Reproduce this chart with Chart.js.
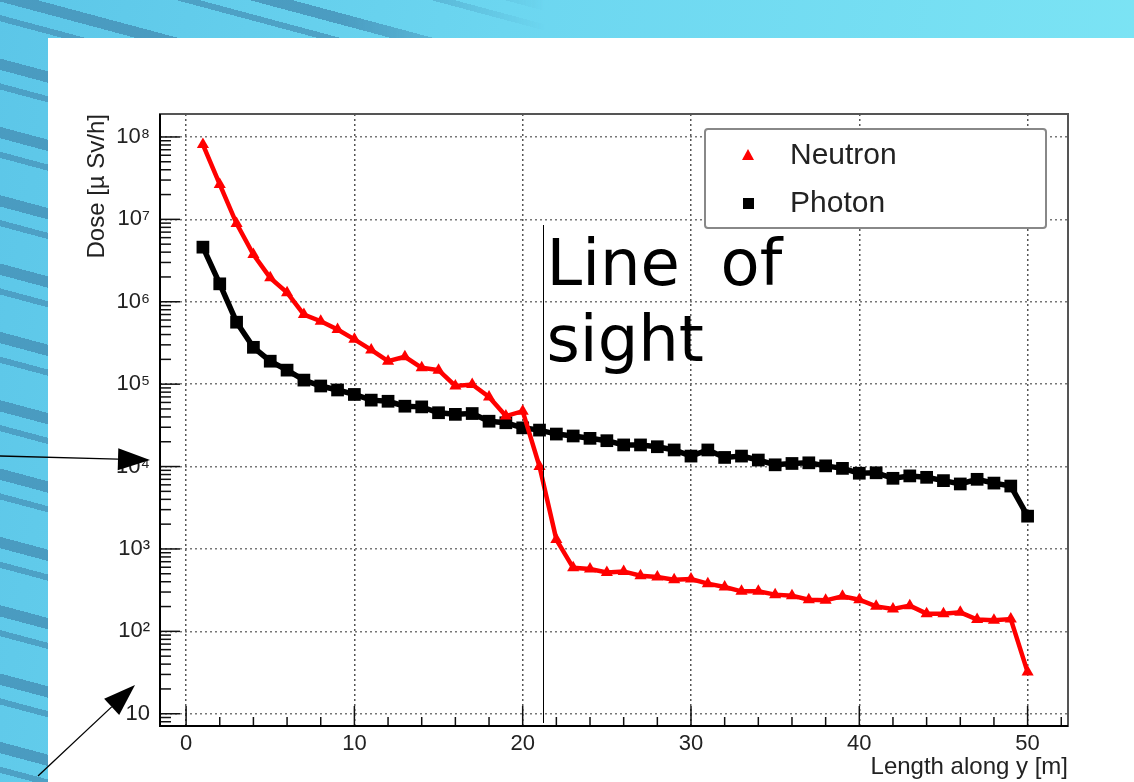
<!DOCTYPE html>
<html>
<head>
<meta charset="utf-8">
<script src="https://cdn.jsdelivr.net/npm/chart.js@4"></script>
<style>
  html, body { margin:0; padding:0; width:1134px; height:782px; overflow:hidden; }
  body { position:relative; background: linear-gradient(100deg, #5cc6e8 0%, #6cd6f0 40%, #7ee6f5 100%); }
  #stripes { position:absolute; left:0; top:0; width:1134px; height:782px;
    background: repeating-linear-gradient(195deg,
      rgba(0,0,0,0) 0px, rgba(0,0,0,0) 20px,
      rgba(72,150,188,0.9) 20px, rgba(72,150,188,0.9) 31px,
      rgba(0,0,0,0) 31px, rgba(0,0,0,0) 44px,
      rgba(72,150,188,0.8) 44px, rgba(72,150,188,0.8) 50px,
      rgba(0,0,0,0) 50px, rgba(0,0,0,0) 66px);
    -webkit-mask-image: linear-gradient(90deg, #000 0%, #000 30%, transparent 48%);
    mask-image: linear-gradient(90deg, #000 0%, #000 30%, transparent 48%); }
  #panel { position:absolute; left:48px; top:38px; right:0; bottom:0; background:#fff; }
  canvas { position:absolute; left:0; top:0; }
</style>
</head>
<body>
<div id="stripes"></div>
<div id="panel"></div>
<canvas id="graph" width="1134" height="782"></canvas>
<script>
// distance along y, one point per metre
var lengths = [1,2,3,4,5,6,7,8,9,10,11,12,13,14,15,16,17,18,19,20,21,22,23,24,25,
               26,27,28,29,30,31,32,33,34,35,36,37,38,39,40,41,42,43,44,45,46,47,48,49,50];
// dose in micro Sv/h
var neutron = [8.1e7,2.65e7,8.9e6,3.75e6,1.95e6,1.29e6,7.0e5,5.8e5,4.6e5,3.5e5,
               2.6e5,1.9e5,2.15e5,1.58e5,1.48e5,9.5e4,9.9e4,7.0e4,4.1e4,4.7e4,
               1.0e4,1.3e3,590,570,519,534,473,456,423,431,
               379,345,306,306,279,271,242,238,266,242,
               201,187,205,164,164,170,139,136,141,32];
var photon = [4.6e6,1.65e6,5.65e5,2.8e5,1.9e5,1.48e5,1.12e5,9.5e4,8.5e4,7.5e4,
              6.4e4,6.2e4,5.4e4,5.3e4,4.5e4,4.3e4,4.4e4,3.55e4,3.4e4,2.95e4,
              2.77e4,2.48e4,2.35e4,2.2e4,2.06e4,1.83e4,1.83e4,1.74e4,1.59e4,1.34e4,
              1.59e4,1.29e4,1.34e4,1.2e4,1.05e4,1.09e4,1.11e4,1.02e4,9.5e3,8.3e3,
              8.4e3,7.2e3,7.7e3,7.4e3,6.75e3,6.15e3,7.0e3,6.3e3,5.8e3,2.5e3];
var seriesNames = ["Neutron", "Photon"];
var xTickLabels = ["0","10","20","30","40","50"];
var lineOfSight = 21.2;
var sightText = ["Line  of", "sight"];

var sup = "⁰¹²³⁴⁵⁶⁷⁸⁹";
function isDecade(v) {
  var l = Math.log10(v);
  return Math.abs(l - Math.round(l)) < 1e-9;
}

function drawArrow(ctx, x1, y1, x2, y2) {
  var a = Math.atan2(y2 - y1, x2 - x1);
  var hl = 32, hw = 11;
  ctx.beginPath();
  ctx.moveTo(x1, y1);
  ctx.lineTo(x2 - hl * Math.cos(a), y2 - hl * Math.sin(a));
  ctx.stroke();
  ctx.beginPath();
  ctx.moveTo(x2, y2);
  ctx.lineTo(x2 - hl * Math.cos(a) + hw * Math.sin(a), y2 - hl * Math.sin(a) - hw * Math.cos(a));
  ctx.lineTo(x2 - hl * Math.cos(a) - hw * Math.sin(a), y2 - hl * Math.sin(a) + hw * Math.cos(a));
  ctx.closePath();
  ctx.fill();
}

//ROOT style frame, inside ticks, legend and the slide annotations
var rootStyle = {
  id: "rootStyle",
  afterDraw: function(chart) {
    var ctx = chart.ctx;
    var a = chart.chartArea;
    var xs = chart.scales.x, ys = chart.scales.y;
    ctx.save();
    // ticks inside the frame
    ctx.strokeStyle = "#111";
    ctx.lineWidth = 1.5;
    xs.ticks.forEach(function(t) {
      var px = xs.getPixelForValue(t.value);
      var len = (t.value % 10 === 0) ? 20 : 9;
      ctx.beginPath(); ctx.moveTo(px, a.bottom); ctx.lineTo(px, a.bottom - len); ctx.stroke();
    });
    for (var n = 0; n <= 8; n++) {
      for (var m = 1; m <= 9; m++) {
        var v = m * Math.pow(10, n);
        if (v < ys.min || v > ys.max) continue;
        var py = ys.getPixelForValue(v);
        var len2 = (m === 1) ? 20 : 11;
        ctx.beginPath(); ctx.moveTo(a.left, py); ctx.lineTo(a.left + len2, py); ctx.stroke();
      }
    }
    // frame
    ctx.lineWidth = 2;
    ctx.strokeStyle = "#555";
    ctx.strokeRect(a.left, a.top, a.right - a.left, a.bottom - a.top);
    ctx.strokeStyle = "#000";
    ctx.beginPath(); ctx.moveTo(a.left, a.top); ctx.lineTo(a.left, a.bottom); ctx.lineTo(a.right, a.bottom); ctx.stroke();

    // line of sight
    var lx = Math.round(xs.getPixelForValue(lineOfSight)) + 0.5;
    ctx.lineWidth = 1;
    ctx.beginPath(); ctx.moveTo(lx, 225); ctx.lineTo(lx, a.bottom - 3); ctx.stroke();
    ctx.fillStyle = "#000";
    ctx.font = "64px 'DejaVu Sans'";
    ctx.textBaseline = "alphabetic";
    ctx.fillText(sightText[0], lx + 3, 285);
    ctx.fillText(sightText[1], lx + 3, 361);

    // legend box
    var bx = 705, by = a.top + 15, bw = a.right - 22 - bx, bh = 99;
    ctx.fillStyle = "#fff";
    ctx.fillRect(bx, by, bw, bh);
    ctx.strokeStyle = "#888";
    ctx.lineWidth = 2;
    ctx.beginPath();
    ctx.roundRect(bx, by, bw, bh, 3);
    ctx.stroke();
    ctx.font = "30px 'Liberation Sans', Arial, sans-serif";
    ctx.textBaseline = "middle";
    chart.data.datasets.forEach(function(ds, i) {
      var cy = by + 26 + i * 48;
      ctx.fillStyle = ds.pointBackgroundColor;
      ctx.beginPath();
      if (ds.pointStyle === "triangle") {
        ctx.moveTo(748, cy - 6); ctx.lineTo(754, cy + 5); ctx.lineTo(742, cy + 5);
      } else {
        ctx.rect(743, cy - 5, 11, 11);
      }
      ctx.closePath(); ctx.fill();
      ctx.fillStyle = "#222";
      ctx.fillText(ds.label, 790, cy + 1);
    });

    // arrows on the slide
    ctx.strokeStyle = "#000";
    ctx.fillStyle = "#000";
    ctx.lineWidth = 1.3;
    drawArrow(ctx, 0, 456, 150, 460);
    drawArrow(ctx, 38, 776, 135, 685);
    ctx.restore();
  }
};

const graph = new Chart("graph", {
  type: "line",
  data: {
    datasets: [{
      label: seriesNames[0],
      data: lengths.map((xi, i) => ({ x: xi, y: neutron[i] })),
      borderColor: "#ff0000",
      backgroundColor: "#ff0000",
      pointBackgroundColor: "#ff0000",
      pointBorderColor: "#ff0000",
      pointStyle: "triangle",
      pointRadius: 7,
      pointBorderWidth: 0,
      borderWidth: 4.5
    }, {
      label: seriesNames[1],
      data: lengths.map((xi, i) => ({ x: xi, y: photon[i] })),
      borderColor: "#000",
      backgroundColor: "#000",
      pointBackgroundColor: "#000",
      pointBorderColor: "#000",
      pointStyle: "rect",
      pointRadius: 9,
      pointBorderWidth: 0,
      borderWidth: 5.5
    }]
  },
  options: {
    responsive: false,
    animation: false,
    layout: { padding: { left: 83, top: 114, right: 66, bottom: 0 } },
    scales: {
      x: {
        type: "linear",
        min: -1.55,
        max: 52.4,
        afterFit: function(s) { s.height = 56; },
        border: { display: false, dash: [2, 3] },
        grid: {
          drawTicks: false,
          lineWidth: 1.5,
          color: ctx => (ctx.tick && ctx.tick.value % 10 === 0) ? "#555" : "rgba(0,0,0,0)"
        },
        ticks: {
          stepSize: 2,
          includeBounds: false,
          autoSkip: false,
          maxRotation: 0,
          padding: 5,
          color: "#222",
          font: { family: "'Liberation Sans', Arial, sans-serif", size: 22 },
          callback: v => (v % 10 === 0) ? xTickLabels[v / 10] : ""
        },
        title: {
          display: true,
          text: "Length along y [m]",
          align: "end",
          color: "#222",
          padding: 0,
          font: { family: "'Liberation Sans', Arial, sans-serif", size: 24 }
        }
      },
      y: {
        type: "logarithmic",
        min: 7.1,
        max: 1.9e8,
        afterFit: function(s) { s.width = 77; },
        border: { display: false, dash: [2, 3] },
        grid: {
          drawTicks: false,
          lineWidth: 1.5,
          color: ctx => (ctx.tick && isDecade(ctx.tick.value)) ? "#777" : "rgba(0,0,0,0)"
        },
        ticks: {
          autoSkip: false,
          padding: 10,
          color: "#222",
          font: { family: "'Liberation Sans', Arial, sans-serif", size: 22 },
          callback: function(v) {
            if (!isDecade(v)) return "";
            var e = Math.round(Math.log10(v));
            return e === 1 ? "10" : "10" + sup[e];
          }
        },
        title: {
          display: true,
          text: "Dose [µ Sv/h]",
          align: "end",
          color: "#222",
          padding: 0,
          font: { family: "'Liberation Sans', Arial, sans-serif", size: 24 }
        }
      }
    },
    plugins: {
      legend: { display: false },
      tooltip: { enabled: false }
    }
  },
  plugins: [rootStyle]
});
</script>
</body>
</html>
